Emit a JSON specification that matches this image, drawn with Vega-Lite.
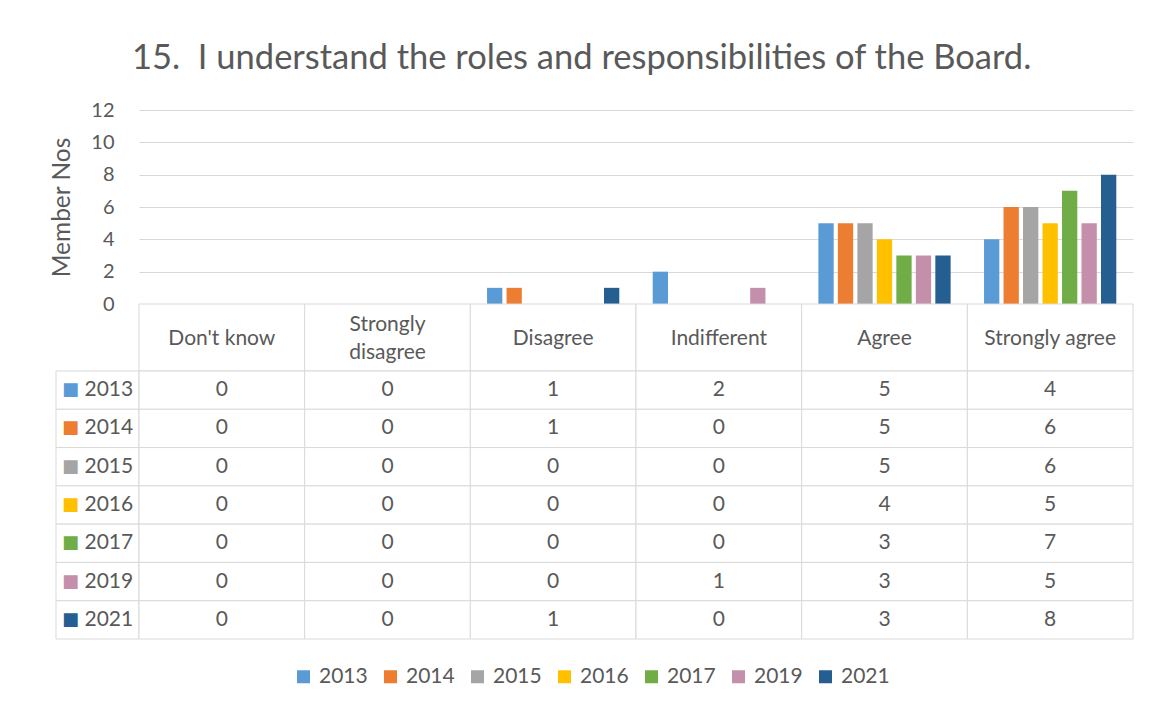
{
  "$schema": "https://vega.github.io/schema/vega-lite/v6.json",
  "padding": {"left": 49, "top": 40, "right": 5, "bottom": 5},
  "background": "white",
  "title": {"text": "15.\u00a0 I understand the roles and responsibilities of the Board.", "fontSize": 34.5, "fontWeight": "normal", "color": "#595959", "anchor": "middle", "offset": 24, "dx": -10},
  "datasets": {
    "votes": [
      {"year": "2013", "category": "Don't know", "value": 0},
      {"year": "2013", "category": "Strongly disagree", "value": 0},
      {"year": "2013", "category": "Disagree", "value": 1},
      {"year": "2013", "category": "Indifferent", "value": 2},
      {"year": "2013", "category": "Agree", "value": 5},
      {"year": "2013", "category": "Strongly agree", "value": 4},
      {"year": "2014", "category": "Don't know", "value": 0},
      {"year": "2014", "category": "Strongly disagree", "value": 0},
      {"year": "2014", "category": "Disagree", "value": 1},
      {"year": "2014", "category": "Indifferent", "value": 0},
      {"year": "2014", "category": "Agree", "value": 5},
      {"year": "2014", "category": "Strongly agree", "value": 6},
      {"year": "2015", "category": "Don't know", "value": 0},
      {"year": "2015", "category": "Strongly disagree", "value": 0},
      {"year": "2015", "category": "Disagree", "value": 0},
      {"year": "2015", "category": "Indifferent", "value": 0},
      {"year": "2015", "category": "Agree", "value": 5},
      {"year": "2015", "category": "Strongly agree", "value": 6},
      {"year": "2016", "category": "Don't know", "value": 0},
      {"year": "2016", "category": "Strongly disagree", "value": 0},
      {"year": "2016", "category": "Disagree", "value": 0},
      {"year": "2016", "category": "Indifferent", "value": 0},
      {"year": "2016", "category": "Agree", "value": 4},
      {"year": "2016", "category": "Strongly agree", "value": 5},
      {"year": "2017", "category": "Don't know", "value": 0},
      {"year": "2017", "category": "Strongly disagree", "value": 0},
      {"year": "2017", "category": "Disagree", "value": 0},
      {"year": "2017", "category": "Indifferent", "value": 0},
      {"year": "2017", "category": "Agree", "value": 3},
      {"year": "2017", "category": "Strongly agree", "value": 7},
      {"year": "2019", "category": "Don't know", "value": 0},
      {"year": "2019", "category": "Strongly disagree", "value": 0},
      {"year": "2019", "category": "Disagree", "value": 0},
      {"year": "2019", "category": "Indifferent", "value": 1},
      {"year": "2019", "category": "Agree", "value": 3},
      {"year": "2019", "category": "Strongly agree", "value": 5},
      {"year": "2021", "category": "Don't know", "value": 0},
      {"year": "2021", "category": "Strongly disagree", "value": 0},
      {"year": "2021", "category": "Disagree", "value": 1},
      {"year": "2021", "category": "Indifferent", "value": 0},
      {"year": "2021", "category": "Agree", "value": 3},
      {"year": "2021", "category": "Strongly agree", "value": 8}
    ],
    "header": [
      {"category": "Don't know", "heading": "Don't know", "lines": 1},
      {"category": "Strongly disagree", "heading": "Strongly\ndisagree", "lines": 2},
      {"category": "Disagree", "heading": "Disagree", "lines": 1},
      {"category": "Indifferent", "heading": "Indifferent", "lines": 1},
      {"category": "Agree", "heading": "Agree", "lines": 1},
      {"category": "Strongly agree", "heading": "Strongly agree", "lines": 1}
    ],
    "years": [
      {"year": "2013"}, {"year": "2014"}, {"year": "2015"}, {"year": "2016"},
      {"year": "2017"}, {"year": "2019"}, {"year": "2021"}
    ]
  },
  "columns": 2,
  "spacing": 0,
  "bounds": "flush",
  "resolve": {"scale": {"x": "independent", "y": "independent"}},
  "concat": [
    {"width": 83, "height": 194, "data": {"values": []}, "mark": "point", "encoding": {}},
    {
      "width": 994, "height": 194,
      "data": {"name": "votes"},
      "mark": {"type": "bar"},
      "encoding": {
        "x": {"field": "category", "type": "nominal", "sort": ["Don't know", "Strongly disagree", "Disagree", "Indifferent", "Agree", "Strongly agree"], "axis": null, "scale": {"paddingInner": 0, "paddingOuter": 0}},
        "xOffset": {"field": "year", "type": "nominal", "sort": ["2013", "2014", "2015", "2016", "2017", "2019", "2021"], "scale": {"paddingInner": 0.215, "paddingOuter": 0.857}},
        "y": {"field": "value", "type": "quantitative", "scale": {"domain": [0, 12]}, "axis": {"values": [0, 2, 4, 6, 8, 10, 12], "title": "Member Nos", "grid": true, "gridColor": "#d9d9d9", "domain": false, "ticks": false, "labelFontSize": 20, "labelColor": "#595959", "labelPadding": 25, "titleFontSize": 24.5, "titleFontWeight": "normal", "titleColor": "#595959", "titlePadding": 16}},
        "color": {"field": "year", "type": "nominal", "scale": {"domain": ["2013", "2014", "2015", "2016", "2017", "2019", "2021"], "range": ["#5B9BD5", "#ED7D31", "#A5A5A5", "#FFC000", "#70AD47", "#C48FAA", "#255E91"]}, "legend": {"orient": "bottom", "direction": "horizontal", "title": null, "symbolType": "square", "symbolSize": 169, "symbolStrokeWidth": 0, "labelFontSize": 21, "labelColor": "#595959", "columnPadding": 12, "labelOffset": 5, "offset": 26}}
      }
    },
    {"width": 83, "height": 67, "data": {"values": []}, "mark": "point", "encoding": {}},
    {
      "width": 994, "height": 67,
      "data": {"name": "header"},
      "encoding": {"x": {"field": "category", "type": "nominal", "sort": ["Don't know", "Strongly disagree", "Disagree", "Indifferent", "Agree", "Strongly agree"], "axis": null, "scale": {"paddingInner": 0, "paddingOuter": 0}}},
      "layer": [
        {"mark": {"type": "rect", "fill": "white", "stroke": "#d9d9d9", "strokeWidth": 1}},
        {"transform": [{"filter": "datum.lines == 1"}], "mark": {"type": "text", "fontSize": 21, "fill": "#595959", "dy": 1}, "encoding": {"text": {"field": "heading"}}},
        {"transform": [{"filter": "datum.lines == 2"}], "mark": {"type": "text", "fontSize": 21, "fill": "#595959", "lineBreak": "\n", "lineHeight": 28, "dy": -13}, "encoding": {"text": {"field": "heading"}}}
      ]
    },
    {
      "width": 83, "height": 268,
      "data": {"name": "years"},
      "encoding": {"y": {"field": "year", "type": "nominal", "sort": ["2013", "2014", "2015", "2016", "2017", "2019", "2021"], "axis": null, "scale": {"paddingInner": 0, "paddingOuter": 0}}},
      "layer": [
        {"mark": {"type": "rect", "fill": "white", "stroke": "#d9d9d9", "strokeWidth": 1}},
        {"mark": {"type": "text", "text": "■", "font": "DejaVu Sans", "fontSize": 18, "align": "center", "dx": -27},
         "encoding": {"color": {"field": "year", "type": "nominal", "scale": {"domain": ["2013", "2014", "2015", "2016", "2017", "2019", "2021"], "range": ["#5B9BD5", "#ED7D31", "#A5A5A5", "#FFC000", "#70AD47", "#C48FAA", "#255E91"]}, "legend": {"orient": "bottom", "direction": "horizontal", "title": null, "symbolType": "square", "symbolSize": 169, "symbolStrokeWidth": 0, "labelFontSize": 21, "labelColor": "#595959", "columnPadding": 12, "labelOffset": 5, "offset": 26}}}},
        {"mark": {"type": "text", "fontSize": 21, "fill": "#595959", "align": "left", "dx": -13}, "encoding": {"text": {"field": "year"}}}
      ]
    },
    {
      "width": 994, "height": 268,
      "data": {"name": "votes"},
      "encoding": {
        "x": {"field": "category", "type": "nominal", "sort": ["Don't know", "Strongly disagree", "Disagree", "Indifferent", "Agree", "Strongly agree"], "axis": null, "scale": {"paddingInner": 0, "paddingOuter": 0}},
        "y": {"field": "year", "type": "nominal", "sort": ["2013", "2014", "2015", "2016", "2017", "2019", "2021"], "axis": null, "scale": {"paddingInner": 0, "paddingOuter": 0}}
      },
      "layer": [
        {"mark": {"type": "rect", "fill": "white", "stroke": "#d9d9d9", "strokeWidth": 1}},
        {"mark": {"type": "text", "fontSize": 21, "fill": "#595959"}, "encoding": {"text": {"field": "value", "type": "quantitative"}}}
      ]
    }
  ],
  "config": {"view": {"stroke": null}, "font": "Lato", "legend": {"layout": {"bottom": {"anchor": "middle"}}}}
}
